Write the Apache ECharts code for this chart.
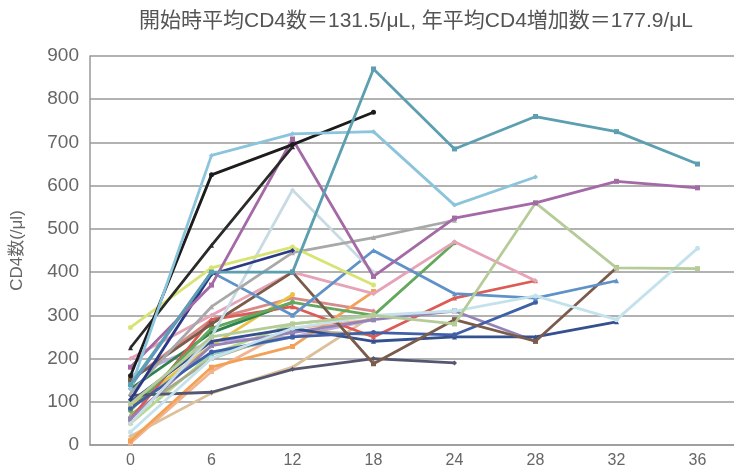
<!DOCTYPE html>
<html>
<head>
<meta charset="utf-8">
<script src="https://cdn.jsdelivr.net/npm/echarts@6/dist/echarts.min.js"></script>
<style>
  html, body { margin: 0; padding: 0; background: #fff; }
  #chart { width: 734px; height: 469px; }
</style>
</head>
<body>
<div id="chart"></div>
<script>
// Months since treatment start
const months = ['0', '6', '12', '18', '24', '28', '32', '36'];
const yTicks = [0, 100, 200, 300, 400, 500, 600, 700, 800, 900];

// CD4 counts per patient (/μl); null = no measurement
const pTeal      = [140, 400, 400, 870, 685, 760, 725, 650];
const pSky       = [130, 670, 720, 725, 555, 620, null, null];
const pBlackA    = [160, 625, 695, 770, null, null, null, null];
const pBlackB    = [225, 462, 690, null, null, null, null, null];
const pMauve     = [180, 370, 708, 390, 525, 560, 610, 595];
const pGray      = [120, 320, 445, 480, 520, null, null, null];
const pLime      = [272, 410, 458, 370, null, null, null, null];
const pNavy      = [105, 395, 450, null, null, null, null, null];
const pSlate     = [115, 122, 175, 200, 190, null, null, null];
const pBrown     = [150, 280, 400, 188, 290, 240, 410, null];
const pSteel     = [135, 400, 300, 450, 350, 340, 380, null];
const pSage      = [95, 250, 280, 300, 280, 560, 410, 408];
const pIce       = [50, 250, 590, 400, null, null, null, null];
const pPale      = [30, 200, 270, 300, 310, 345, 290, 455];
const pOrange    = [10, 180, 228, 355, null, null, null, null];
const pPink      = [200, 300, 400, 350, 470, 380, null, null];
const pGreen     = [80, 270, 330, 300, 468, null, null, null];
const pRed       = [60, 290, 320, 250, 340, 380, null, null];
const pLavender  = [60, 230, 260, 290, 310, 240, null, null];
const pNavy2     = [100, 240, 270, 240, 250, 250, 285, null];
const pBlue2     = [85, 215, 250, 260, 255, 330, null, null];
const pGold      = [90, 230, 348, null, null, null, null, null];
const pDkGreen   = [130, 260, 330, null, null, null, null, null];
const pTan       = [20, 120, 180, 300, null, null, null, null];
const pSalmon    = [5, 170, 270, 290, null, null, null, null];
const pLilac     = [160, 240, 250, 290, null, null, null, null];
const pLtGreen   = [50, 210, 280, 300, null, null, null, null];
const pRose      = [150, 290, 340, 310, null, null, null, null];
const pLtTeal    = [100, 210, 250, null, null, null, null, null];
const pOlive     = [70, 200, 265, 255, null, null, null, null];

const patients = [
  { data: pTan,      color: '#dcc09a' },
  { data: pSalmon,   color: '#f2b48e' },
  { data: pLilac,    color: '#c2a9d8' },
  { data: pLtGreen,  color: '#b4d890' },
  { data: pRose,     color: '#d68a8a' },
  { data: pLtTeal,   color: '#92c9c1' },
  { data: pOlive,    color: '#a9a98a' },
  { data: pGold,     color: '#eac242' },
  { data: pDkGreen,  color: '#2f8150' },
  { data: pOrange,   color: '#f3a156' },
  { data: pRed,      color: '#dc5b55' },
  { data: pGreen,    color: '#63a85c' },
  { data: pPink,     color: '#e6a3b8' },
  { data: pLavender, color: '#9484b6' },
  { data: pNavy2,    color: '#35508f' },
  { data: pBlue2,    color: '#3f5fa8' },
  { data: pSlate,    color: '#55566f' },
  { data: pBrown,    color: '#7b5b4a' },
  { data: pSteel,    color: '#5e92c8' },
  { data: pPale,     color: '#c4e2ec' },
  { data: pIce,      color: '#c8dbe4' },
  { data: pSage,     color: '#b6cc98' },
  { data: pGray,     color: '#a8a8a8' },
  { data: pLime,     color: '#d8e472' },
  { data: pNavy,     color: '#2b3a85' },
  { data: pMauve,    color: '#a36aa6' },
  { data: pBlackB,   color: '#2a2a2a' },
  { data: pBlackA,   color: '#1c1c1c' },
  { data: pSky,      color: '#8cc4dc' },
  { data: pTeal,     color: '#5b9fb1' }
];

const shapes = ['diamond', 'rect', 'triangle', 'circle'];

const chart = echarts.init(document.getElementById('chart'), null, { renderer: 'canvas' });
chart.setOption({
  animation: false,
  backgroundColor: '#ffffff',
  title: {
    text: '開始時平均CD4数＝131.5/μL, 年平均CD4増加数＝177.9/μL',
    left: 411,
    top: 6,
    textAlign: 'center',
    textStyle: {
      fontFamily: '"Liberation Sans", "Noto Sans CJK JP", sans-serif',
      fontSize: 21,
      fontWeight: 'normal',
      color: '#555'
    }
  },
  grid: { left: 90, top: 56, bottom: 24, width: 648, outerBoundsMode: 'none' },
  xAxis: {
    type: 'category',
    data: months,
    boundaryGap: true,
    axisLine: { lineStyle: { color: '#999', width: 1.5 } },
    axisTick: { show: false },
    axisLabel: {
      color: '#666',
      fontSize: 16,
      margin: 8,
      fontFamily: '"Liberation Sans", sans-serif'
    }
  },
  yAxis: {
    type: 'value',
    min: yTicks[0],
    max: yTicks[yTicks.length - 1],
    interval: 100,
    name: 'CD4数(/μl)',
    nameLocation: 'middle',
    nameGap: 64,
    nameRotate: 90,
    nameTextStyle: {
      color: '#666',
      fontSize: 17,
      fontFamily: '"Liberation Sans", "Noto Sans CJK JP", sans-serif'
    },
    axisLine: { show: true, lineStyle: { color: '#999', width: 1.5 } },
    axisTick: { show: false },
    axisLabel: {
      color: '#666',
      fontSize: 19,
      margin: 11,
      fontFamily: '"Liberation Sans", sans-serif'
    },
    splitLine: { lineStyle: { color: '#999', width: 1.5 } }
  },
  series: patients.map((p, i) => ({
    type: 'line',
    data: p.data,
    connectNulls: false,
    symbol: shapes[i % shapes.length],
    symbolSize: 5,
    showSymbol: true,
    lineStyle: { color: p.color, width: 2.8 },
    itemStyle: { color: p.color },
    z: 2 + i
  }))
});
</script>
</body>
</html>
